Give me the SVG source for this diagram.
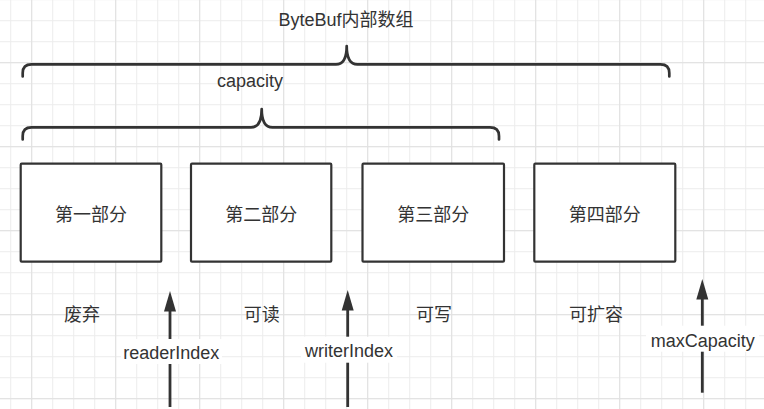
<svg xmlns="http://www.w3.org/2000/svg" width="764" height="409" viewBox="0 0 764 409">
<style>
.t{font-family:"Liberation Sans","Noto Sans CJK SC",sans-serif;font-size:18px;fill:#333;text-anchor:middle}
.box{fill:#fff;stroke:#333;stroke-width:2.2}
.brace{fill:none;stroke:#333;stroke-width:2.7;stroke-linecap:round;stroke-linejoin:round}
.arr{stroke:#333;stroke-width:2.8;fill:none}
.bg{fill:#fff}
</style>
<defs>
<pattern id="gMinor" width="21" height="21" x="10.2" y="20.2" patternUnits="userSpaceOnUse">
<path d="M0.5 0V21M0 0.5H21" stroke="#ececec" stroke-width="1" fill="none"/>
</pattern>
<pattern id="gMajor" width="84" height="84" x="31.2" y="62.2" patternUnits="userSpaceOnUse">
<path d="M0.5 0V84M0 0.5H84" stroke="#e0e0e0" stroke-width="1" fill="none"/>
</pattern>
<marker id="ah" markerUnits="userSpaceOnUse" markerWidth="21" markerHeight="14" viewBox="0 0 21 14" refX="0.5" refY="7" orient="auto">
<path d="M0 1L20.5 7L0 13Z" fill="#333"/>
</marker>
</defs>
<rect width="764" height="409" fill="#fff"/>
<rect width="764" height="409" fill="url(#gMinor)"/>
<rect width="764" height="409" fill="url(#gMajor)"/>

<g id="braces">
<path class="brace" d="M22.7 76.5V73Q22.7 64.4 31.5 64.4H336Q346.7 64.4 346.7 46Q346.7 64.4 357.4 64.4H660.5Q669.3 64.4 669.3 73V76.5"/>
<path class="brace" d="M22.7 139.5V136Q22.7 127.4 31.5 127.4H251Q261.7 127.4 261.7 109Q261.7 127.4 272.4 127.4H490Q499 127.4 499 136V139.5"/>
</g>
<text class="t" x="346" y="25.7">ByteBuf内部数组</text>
<text class="t" x="250" y="87.3">capacity</text>

<g id="part1"><rect class="box" x="20.7" y="163.7" width="140.6" height="98" rx="1"/><text class="t" x="91" y="221">第一部分</text></g>
<g id="part2"><rect class="box" x="191" y="163.7" width="140.3" height="98" rx="1"/><text class="t" x="261.2" y="221">第二部分</text></g>
<g id="part3"><rect class="box" x="362.5" y="163.7" width="141.5" height="98" rx="1"/><text class="t" x="433.2" y="221">第三部分</text></g>
<g id="part4"><rect class="box" x="534.3" y="163.7" width="141" height="98" rx="1"/><text class="t" x="604.8" y="221">第四部分</text></g>

<g id="regions">
<text class="t" x="82" y="321">废弃</text>
<text class="t" x="261.7" y="321">可读</text>
<text class="t" x="434" y="321">可写</text>
<text class="t" x="596" y="321">可扩容</text>
</g>

<g id="connectors">
<path class="arr" d="M170 407V311" marker-end="url(#ah)"/>
<path class="arr" d="M347.7 407V310" marker-end="url(#ah)"/>
<path class="arr" d="M702.3 392.7V299" marker-end="url(#ah)"/>
</g>

<g id="readerIndex"><rect class="bg" x="121" y="339" width="101" height="25"/><text class="t" x="171.3" y="359.3">readerIndex</text></g>
<g id="writerIndex"><rect class="bg" x="301" y="336.7" width="96" height="26"/><text class="t" x="349" y="357.3">writerIndex</text></g>
<g id="maxCapacity"><rect class="bg" x="646" y="325.7" width="113" height="26"/><text class="t" x="702.8" y="346.7">maxCapacity</text></g>
</svg>
